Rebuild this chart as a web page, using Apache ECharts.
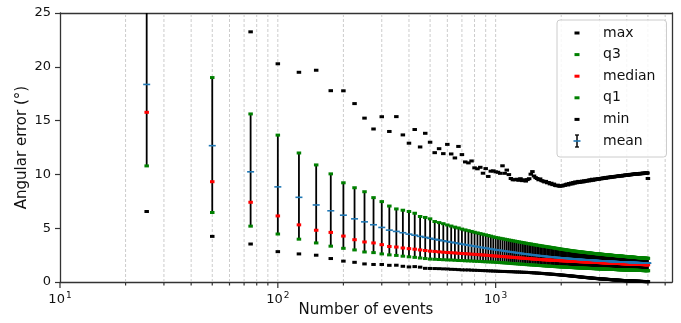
<!DOCTYPE html>
<html lang="en">
<head>
    <meta charset="utf-8">
    <title>Angular error</title>
    <script type="text/javascript" src="https://cdn.jsdelivr.net/npm/echarts@6/dist/echarts.min.js"></script>
    <style>
        html, body { margin: 0; padding: 0; background: #fff; }
    </style>
</head>
<body>
<div id="main" style="width: 681px;height:323px;"></div>
<script type="text/javascript">
    // number of events
    var xs = [
        25,50,75,100,125,150,175,200,225,250,275,300,325,350,375,400,425,450,475,500,
        525,550,575,600,625,650,675,700,725,750,775,800,825,850,875,900,925,950,975,1000,
        1025,1050,1075,1100,1125,1150,1175,1200,1225,1250,1275,1300,1325,1350,1375,1400,1425,1450,1475,1500,
        1525,1550,1575,1600,1625,1650,1675,1700,1725,1750,1775,1800,1825,1850,1875,1900,1925,1950,1975,2000,
        2025,2050,2075,2100,2125,2150,2175,2200,2225,2250,2275,2300,2325,2350,2375,2400,2425,2450,2475,2500,
        2525,2550,2575,2600,2625,2650,2675,2700,2725,2750,2775,2800,2825,2850,2875,2900,2925,2950,2975,3000,
        3025,3050,3075,3100,3125,3150,3175,3200,3225,3250,3275,3300,3325,3350,3375,3400,3425,3450,3475,3500,
        3525,3550,3575,3600,3625,3650,3675,3700,3725,3750,3775,3800,3825,3850,3875,3900,3925,3950,3975,4000,
        4025,4050,4075,4100,4125,4150,4175,4200,4225,4250,4275,4300,4325,4350,4375,4400,4425,4450,4475,4500,
        4525,4550,4575,4600,4625,4650,4675,4700,4725,4750,4775,4800,4825,4850,4875,4900,4925,4950,4975,5000
    ];
    var maxV = [
        45,32,23.25,20.28,19.49,19.68,17.78,17.77,16.58,15.23,14.22,15.36,13.99,15.37,13.67,12.9,14.17,12.55,13.82,12.99,
        12.02,12.39,11.93,12.79,11.9,11.53,12.6,11.84,11.16,11.07,11.25,10.61,10.52,10.66,10.11,10.54,9.81,10.3,10.33,10.24,
        10.2,10.1,10.8,10.1,10.4,9.98,9.62,9.5,9.5,9.55,9.45,9.6,9.42,9.5,9.38,9.52,9.6,10.02,10.26,9.85,
        9.7,9.62,9.5,9.58,9.42,9.38,9.3,9.35,9.22,9.25,9.12,9.18,9.05,9.1,8.98,8.95,9.0,8.92,8.9,8.95,
        8.92,9.0,8.98,9.05,9.1,9.02,9.15,9.1,9.2,9.12,9.25,9.18,9.3,9.22,9.28,9.35,9.25,9.32,9.3,9.38,
        9.3,9.4,9.35,9.42,9.38,9.45,9.4,9.5,9.42,9.48,9.55,9.45,9.52,9.5,9.58,9.52,9.55,9.6,9.55,9.62,
        9.58,9.62,9.6,9.68,9.62,9.65,9.7,9.64,9.72,9.68,9.7,9.75,9.7,9.72,9.78,9.74,9.76,9.8,9.75,9.8,
        9.78,9.82,9.8,9.84,9.8,9.85,9.82,9.88,9.85,9.86,9.9,9.85,9.88,9.92,9.88,9.9,9.95,9.9,9.94,9.92,
        9.95,9.92,9.98,9.95,9.97,10.0,9.96,10.0,9.98,10.02,10.0,10.03,10.0,10.05,10.02,10.04,10.06,10.02,10.06,10.05,
        10.05,10.08,10.04,10.07,10.1,10.06,10.08,10.1,10.07,10.12,10.1,10.08,10.12,10.1,10.14,10.1,10.12,10.15,10.12,9.62
    ];
    var q3V = [
        27,19.0,15.62,13.65,11.99,10.88,10.05,9.22,8.76,8.39,7.84,7.47,7.06,6.79,6.67,6.55,6.39,6.09,6.0,5.87,
        5.62,5.52,5.42,5.3,5.2,5.1,5.02,4.92,4.84,4.77,4.7,4.62,4.56,4.5,4.44,4.38,4.32,4.26,4.2,4.14,
        4.1,4.06,4.02,3.98,3.94,3.9,3.87,3.83,3.8,3.76,3.73,3.7,3.67,3.64,3.61,3.58,3.55,3.53,3.5,3.47,
        3.45,3.42,3.4,3.38,3.35,3.33,3.31,3.29,3.27,3.25,3.23,3.21,3.19,3.17,3.15,3.13,3.11,3.09,3.07,3.05,
        3.04,3.02,3.0,2.99,2.97,2.96,2.94,2.93,2.91,2.9,2.88,2.87,2.86,2.85,2.83,2.82,2.81,2.8,2.79,2.78,
        2.77,2.76,2.75,2.74,2.73,2.72,2.71,2.7,2.69,2.68,2.67,2.66,2.65,2.65,2.64,2.63,2.62,2.61,2.61,2.6,
        2.59,2.58,2.58,2.57,2.56,2.55,2.55,2.54,2.53,2.53,2.52,2.51,2.51,2.5,2.49,2.49,2.48,2.47,2.47,2.46,
        2.46,2.45,2.45,2.44,2.43,2.43,2.42,2.42,2.41,2.41,2.4,2.4,2.39,2.39,2.38,2.38,2.37,2.37,2.36,2.36,
        2.35,2.35,2.34,2.34,2.33,2.33,2.32,2.32,2.31,2.31,2.3,2.3,2.3,2.29,2.29,2.28,2.28,2.27,2.27,2.27,
        2.26,2.26,2.25,2.25,2.25,2.24,2.24,2.23,2.23,2.23,2.22,2.22,2.22,2.21,2.21,2.21,2.2,2.2,2.2,2.2
    ];
    var medianV = [
        15.77,9.32,7.41,6.14,5.31,4.81,4.61,4.27,3.93,3.72,3.63,3.47,3.3,3.25,3.16,3.1,3.05,2.98,2.93,2.87,
        2.84,2.8,2.77,2.74,2.72,2.7,2.67,2.65,2.63,2.61,2.59,2.57,2.55,2.53,2.51,2.49,2.47,2.45,2.43,2.41,
        2.4,2.38,2.37,2.35,2.34,2.32,2.31,2.29,2.28,2.26,2.25,2.23,2.22,2.21,2.19,2.18,2.17,2.16,2.14,2.13,
        2.12,2.11,2.1,2.09,2.08,2.07,2.07,2.06,2.05,2.04,2.04,2.03,2.02,2.02,2.01,2.0,2.0,1.99,1.99,1.98,
        1.97,1.97,1.96,1.96,1.95,1.95,1.94,1.94,1.93,1.93,1.92,1.92,1.91,1.91,1.9,1.9,1.89,1.89,1.88,1.88,
        1.88,1.87,1.87,1.86,1.86,1.86,1.85,1.85,1.84,1.84,1.84,1.83,1.83,1.82,1.82,1.82,1.81,1.81,1.81,1.8,
        1.8,1.8,1.79,1.79,1.79,1.78,1.78,1.78,1.77,1.77,1.77,1.76,1.76,1.76,1.75,1.75,1.75,1.74,1.74,1.74,
        1.74,1.73,1.73,1.73,1.72,1.72,1.72,1.72,1.71,1.71,1.71,1.71,1.7,1.7,1.7,1.7,1.69,1.69,1.69,1.69,
        1.68,1.68,1.68,1.68,1.67,1.67,1.67,1.67,1.66,1.66,1.66,1.66,1.66,1.65,1.65,1.65,1.65,1.65,1.64,1.64,
        1.64,1.64,1.64,1.63,1.63,1.63,1.63,1.63,1.62,1.62,1.62,1.62,1.62,1.61,1.61,1.61,1.61,1.61,1.6,1.6
    ];
    var q1V = [
        10.79,6.46,5.19,4.46,3.98,3.63,3.33,3.13,2.98,2.79,2.73,2.61,2.52,2.47,2.4,2.34,2.29,2.23,2.18,2.13,
        2.11,2.09,2.07,2.05,2.04,2.02,2.0,1.99,1.97,1.96,1.95,1.93,1.92,1.91,1.89,1.88,1.87,1.86,1.85,1.83,
        1.82,1.8,1.79,1.77,1.76,1.74,1.73,1.71,1.7,1.69,1.67,1.66,1.65,1.64,1.62,1.61,1.6,1.59,1.58,1.57,
        1.56,1.55,1.54,1.53,1.52,1.51,1.5,1.49,1.48,1.47,1.46,1.46,1.45,1.44,1.43,1.43,1.42,1.41,1.41,1.4,
        1.39,1.39,1.38,1.38,1.37,1.36,1.36,1.35,1.35,1.34,1.34,1.33,1.33,1.32,1.32,1.31,1.31,1.3,1.3,1.3,
        1.29,1.29,1.28,1.28,1.27,1.27,1.27,1.26,1.26,1.25,1.25,1.25,1.24,1.24,1.24,1.23,1.23,1.23,1.22,1.22,
        1.22,1.21,1.21,1.21,1.2,1.2,1.2,1.19,1.19,1.19,1.19,1.18,1.18,1.18,1.17,1.17,1.17,1.17,1.16,1.16,
        1.16,1.16,1.15,1.15,1.15,1.15,1.14,1.14,1.14,1.14,1.13,1.13,1.13,1.13,1.13,1.12,1.12,1.12,1.12,1.12,
        1.11,1.11,1.11,1.11,1.11,1.1,1.1,1.1,1.1,1.1,1.1,1.09,1.09,1.09,1.09,1.09,1.09,1.08,1.08,1.08,
        1.08,1.08,1.08,1.07,1.07,1.07,1.07,1.07,1.07,1.06,1.06,1.06,1.06,1.06,1.06,1.06,1.05,1.05,1.05,1.05
    ];
    var minV = [
        6.55,4.24,3.53,2.82,2.61,2.49,2.18,1.94,1.83,1.68,1.63,1.63,1.55,1.56,1.46,1.4,1.43,1.38,1.27,1.26,
        1.25,1.24,1.22,1.21,1.18,1.17,1.15,1.13,1.12,1.12,1.1,1.09,1.08,1.07,1.06,1.05,1.04,1.03,1.02,1.01,
        1.0,0.99,0.98,0.98,0.97,0.96,0.96,0.95,0.94,0.93,0.93,0.92,0.91,0.9,0.9,0.89,0.88,0.87,0.86,0.85,
        0.84,0.83,0.82,0.81,0.8,0.79,0.78,0.77,0.76,0.75,0.74,0.73,0.72,0.71,0.7,0.69,0.68,0.67,0.66,0.65,
        0.64,0.63,0.62,0.61,0.6,0.59,0.58,0.57,0.56,0.55,0.54,0.53,0.52,0.51,0.5,0.49,0.48,0.47,0.46,0.45,
        0.44,0.43,0.43,0.42,0.41,0.4,0.39,0.39,0.38,0.37,0.36,0.35,0.35,0.34,0.33,0.33,0.32,0.31,0.31,0.3,
        0.29,0.29,0.28,0.28,0.27,0.27,0.26,0.26,0.25,0.25,0.24,0.24,0.23,0.23,0.22,0.22,0.21,0.21,0.2,0.2,
        0.19,0.19,0.18,0.18,0.17,0.17,0.16,0.16,0.16,0.15,0.15,0.15,0.14,0.14,0.14,0.13,0.13,0.13,0.12,0.12,
        0.12,0.11,0.11,0.11,0.1,0.1,0.1,0.1,0.09,0.09,0.09,0.09,0.08,0.08,0.08,0.08,0.07,0.07,0.07,0.07,
        0.07,0.06,0.06,0.06,0.06,0.06,0.05,0.05,0.05,0.05,0.05,0.05,0.04,0.04,0.04,0.04,0.04,0.04,0.04,0.03
    ];
    var meanV = [
        18.36,12.67,10.24,8.84,7.87,7.16,6.62,6.21,5.87,5.59,5.32,5.07,4.82,4.7,4.58,4.45,4.35,4.24,4.15,4.06,
        3.97,3.9,3.83,3.76,3.7,3.64,3.58,3.52,3.47,3.42,3.37,3.32,3.28,3.23,3.19,3.15,3.11,3.07,3.03,3.0,
        2.97,2.94,2.91,2.88,2.85,2.82,2.79,2.77,2.74,2.72,2.69,2.67,2.64,2.62,2.6,2.58,2.56,2.54,2.52,2.5,
        2.48,2.47,2.45,2.44,2.42,2.41,2.39,2.38,2.36,2.35,2.34,2.33,2.31,2.3,2.29,2.28,2.27,2.26,2.25,2.24,
        2.23,2.22,2.21,2.2,2.19,2.19,2.18,2.17,2.16,2.15,2.14,2.14,2.13,2.12,2.11,2.11,2.1,2.09,2.09,2.08,
        2.07,2.07,2.06,2.06,2.05,2.04,2.04,2.03,2.03,2.02,2.02,2.01,2.01,2.0,2.0,1.99,1.99,1.98,1.98,1.97,
        1.97,1.96,1.96,1.96,1.95,1.95,1.94,1.94,1.94,1.93,1.93,1.92,1.92,1.92,1.91,1.91,1.91,1.9,1.9,1.9,
        1.89,1.89,1.89,1.88,1.88,1.88,1.87,1.87,1.87,1.87,1.86,1.86,1.86,1.85,1.85,1.85,1.85,1.84,1.84,1.84,
        1.84,1.83,1.83,1.83,1.83,1.82,1.82,1.82,1.82,1.81,1.81,1.81,1.81,1.8,1.8,1.8,1.8,1.8,1.79,1.79,
        1.79,1.79,1.79,1.78,1.78,1.78,1.78,1.78,1.77,1.77,1.77,1.77,1.77,1.76,1.76,1.76,1.76,1.76,1.76,1.75
    ];
    // log axis ticks (matplotlib style minor ticks)
    var majorTicks = [10, 100, 1000];
    var minorTicks = [20,30,40,50,60,70,80,90,200,300,400,500,600,700,800,900,2000,3000,4000,5000,6000];

    var FONT = 'DejaVu Sans';
    var SPINE = { show: true, onZero: false, lineStyle: { color: '#333', width: 1.3 } };

    function pts(arr) {
        return xs.map(function (x, i) { return [x, arr[i]]; });
    }
    function svgIcon(inner) {
        return 'image://data:image/svg+xml;charset=utf-8,' + encodeURIComponent(
            "<svg xmlns='http://www.w3.org/2000/svg' width='22' height='14' viewBox='0 0 22 14'>" + inner + "</svg>");
    }
    function dashIcon(color) {
        return svgIcon("<rect x='8.5' y='5.5' width='5' height='3' fill='" + color + "'/>");
    }
    var meanIcon = svgIcon(
        "<line x1='11' y1='1' x2='11' y2='13' stroke='black' stroke-width='1.5'/>" +
        "<line x1='9' y1='1' x2='13' y2='1' stroke='black' stroke-width='1.3'/>" +
        "<line x1='9' y1='13' x2='13' y2='13' stroke='black' stroke-width='1.3'/>" +
        "<rect x='7.5' y='6.2' width='7' height='1.6' fill='#1f77b4'/>");

    function dots(name, arr, color, z) {
        return {
            name: name, type: 'scatter', data: pts(arr),
            symbol: 'rect', symbolSize: [4.5, 3],
            itemStyle: { color: color, opacity: 1 },
            z: z, clip: true
        };
    }

    var myChart = echarts.init(document.getElementById('main'));

    // [value, major?]
    var tickData = majorTicks.map(function (v) { return [v, 1]; })
        .concat(minorTicks.map(function (v) { return [v, 0]; }));

    var option = {
        animation: false,
        grid: { left: 60, right: 9, top: 13, bottom: 39 },
        legend: {
            orient: 'vertical',
            left: 557, top: 20,
            padding: [6, 11, 9, 9],
            itemWidth: 22, itemHeight: 14, itemGap: 7.6,
            backgroundColor: 'rgba(255,255,255,0.85)',
            borderColor: '#cccccc', borderWidth: 1, borderRadius: 3,
            selectedMode: false, z: 20,
            textStyle: { fontFamily: FONT, fontSize: 14, color: '#111', padding: [0, 0, 0, 10] },
            data: [
                { name: 'max', icon: dashIcon('#000000') },
                { name: 'q3', icon: dashIcon('#008000') },
                { name: 'median', icon: dashIcon('#ff0000') },
                { name: 'q1', icon: dashIcon('#008000') },
                { name: 'min', icon: dashIcon('#000000') },
                { name: 'mean', icon: meanIcon }
            ]
        },
        xAxis: [{
            type: 'log', logBase: 10, min: 10, max: 6450, position: 'bottom',
            name: 'Number of events', nameLocation: 'middle', nameGap: 21, nameMoveOverlap: false,
            nameTextStyle: { fontFamily: FONT, fontSize: 15, color: '#111' },
            axisLine: SPINE,
            axisTick: { show: false },
            splitLine: { show: false },
            axisLabel: {
                margin: 9,
                customValues: majorTicks,
                formatter: function (v) {
                    var p = Math.round(Math.log(v) / Math.LN10);
                    return '{b|10}{s|' + p + '}';
                },
                rich: {
                    b: { fontFamily: FONT, fontSize: 13, color: '#111' },
                    s: { fontFamily: FONT, fontSize: 9, color: '#111', verticalAlign: 'top', padding: [0, 0, 8, 1] }
                }
            }
        }, {
            // top spine
            type: 'log', logBase: 10, min: 10, max: 6450, position: 'top',
            axisLine: SPINE, axisTick: { show: false }, axisLabel: { show: false }, splitLine: { show: false }
        }],
        yAxis: [{
            type: 'value', min: 0, max: 25, interval: 5, position: 'left',
            name: 'Angular error (°)', nameLocation: 'middle', nameGap: 30, nameMoveOverlap: false,
            nameTextStyle: { fontFamily: FONT, fontSize: 15, color: '#111' },
            axisLine: SPINE,
            axisTick: { show: true, length: 5, lineStyle: { color: '#333', width: 1.2 } },
            splitLine: { show: false },
            axisLabel: { fontFamily: FONT, fontSize: 13, color: '#111', margin: 9 }
        }, {
            // right spine
            type: 'value', min: 0, max: 25, interval: 5, position: 'right',
            axisLine: SPINE, axisTick: { show: false }, axisLabel: { show: false }, splitLine: { show: false }
        }],
        series: [
            {
                name: 'grid lines', type: 'custom', clip: false, z: 2,
                data: tickData.filter(function (d) { return d[0] > 10; }),
                renderItem: function (params, api) {
                    var x = api.value(0);
                    var bot = api.coord([x, 0]), top = api.coord([x, 25]);
                    return {
                        type: 'line',
                        shape: { x1: bot[0], y1: bot[1], x2: top[0], y2: top[1] },
                        style: { stroke: '#cccccc', lineWidth: 1, lineDash: [3, 2] }
                    };
                }
            },
            {
                name: 'x ticks', type: 'custom', clip: false, z: 2,
                data: tickData,
                renderItem: function (params, api) {
                    var p = api.coord([api.value(0), 0]);
                    var len = api.value(1) === 1 ? 6 : 3.5;
                    return {
                        type: 'line',
                        shape: { x1: p[0], y1: p[1], x2: p[0], y2: p[1] + len },
                        style: { stroke: '#333', lineWidth: 1.2 }
                    };
                }
            },
            {
                name: 'bars', type: 'custom', clip: true, z: 3,
                data: xs.map(function (x, i) { return [x, q1V[i], q3V[i]]; }),
                renderItem: function (params, api) {
                    var x = api.value(0);
                    var lo = api.coord([x, api.value(1)]), hi = api.coord([x, api.value(2)]);
                    return {
                        type: 'line',
                        shape: { x1: lo[0], y1: lo[1], x2: hi[0], y2: hi[1] },
                        style: { stroke: '#000', lineWidth: 1.8 }
                    };
                }
            },
            dots('max', maxV, '#000000', 4),
            dots('min', minV, '#000000', 4),
            dots('q3', q3V, '#008000', 5),
            dots('q1', q1V, '#008000', 5),
            dots('median', medianV, '#ff0000', 6),
            {
                name: 'mean', type: 'scatter', data: pts(meanV),
                symbol: 'rect', symbolSize: [7, 1.6],
                itemStyle: { color: '#1f77b4', opacity: 1 },
                z: 7, clip: true
            }
        ]
    };

    myChart.setOption(option);
</script>
</body>
</html>
